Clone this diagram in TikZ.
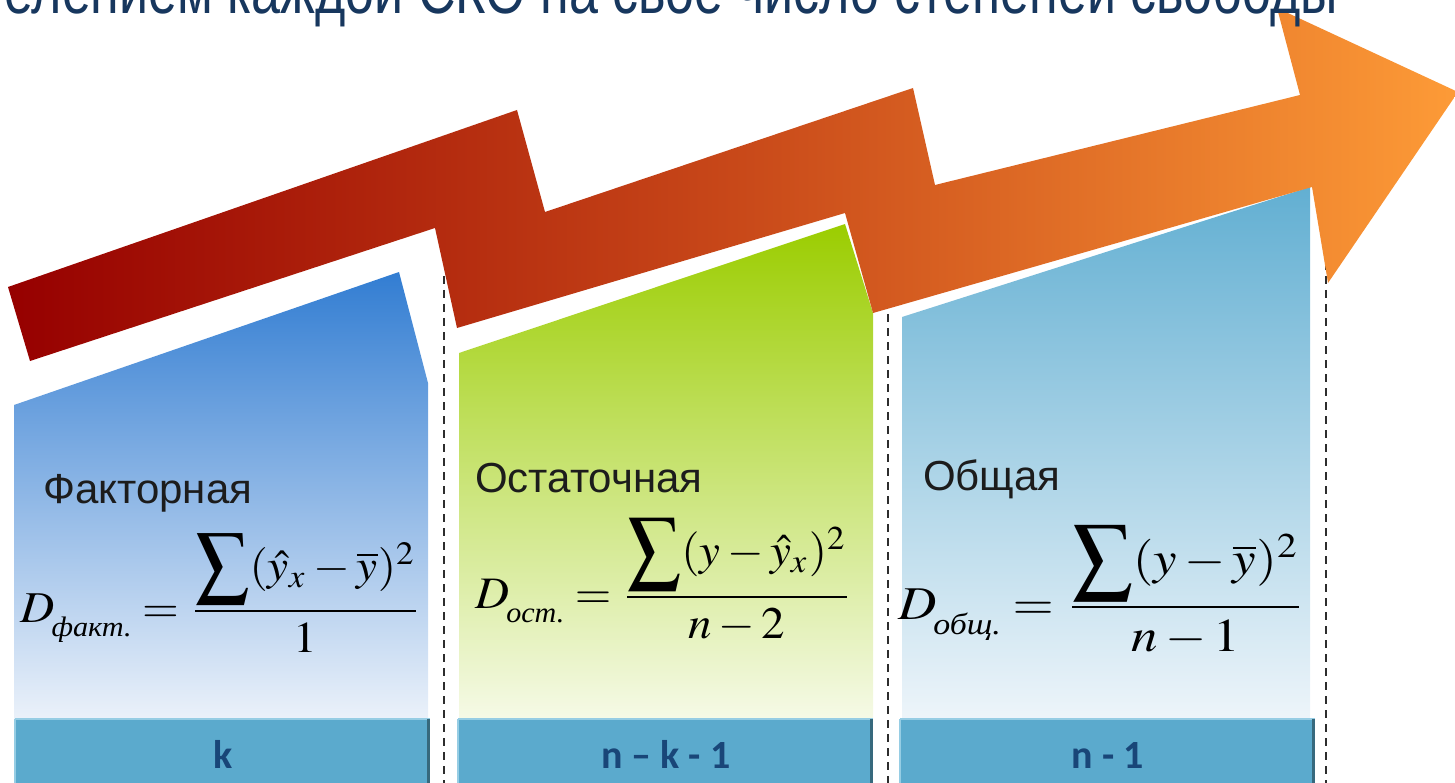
\documentclass[tikz,border=0pt]{standalone}
\usepackage{mathptmx}
\usepackage[no-math]{fontspec}
\setmainfont{Liberation Serif}
\newfontfamily\arialf{Liberation Sans}
\newfontfamily\calibf{Carlito}
\usepackage{graphicx}
\definecolor{arrL}{RGB}{150,0,0}
\definecolor{arrM}{RGB}{200,72,25}
\definecolor{arrR}{RGB}{253,155,55}
\definecolor{p1top}{RGB}{50,125,210}
\definecolor{p1bot}{RGB}{236,242,250}
\definecolor{p2top}{RGB}{155,205,0}
\definecolor{p2bot}{RGB}{246,250,232}
\definecolor{p3top}{RGB}{98,175,210}
\definecolor{p3bot}{RGB}{238,245,250}
\definecolor{barfill}{RGB}{91,170,205}
\definecolor{barhi}{RGB}{150,205,228}
\definecolor{bardk}{RGB}{55,105,125}
\definecolor{bartxt}{RGB}{25,70,120}
\definecolor{titletxt}{RGB}{23,55,94}
\definecolor{dashc}{RGB}{45,45,45}
\newcommand{\cyrsub}[1]{\kern-0.6pt\raisebox{-3.2pt}{\fontsize{6.4}{7}\selectfont\itshape #1}}
\newcommand{\bigsum}{\mathop{\vcenter{\hbox{\raisebox{1.4pt}{\scalebox{1.12}[1.3]{$\displaystyle\sum$}}}}}}
\tikzset{
  dashline/.style={draw=dashc, line width=2pt, dash pattern=on 8pt off 6pt},
  barbox/.style={fill=barfill, draw=none, minimum width=#1, minimum height=72pt, inner sep=0pt},
  barhiline/.style={draw=barhi, line width=2pt},
  bardkline/.style={draw=bardk, line width=3pt},
  bartext/.style={font=\calibf\bfseries\fontsize{40}{44}\selectfont, text=bartxt, inner sep=0pt},
  label/.style={font=\arialf\fontsize{42}{46}\selectfont, text={rgb,255:red,28;green,28;blue,28}, inner sep=0pt, anchor=base west},
  formula/.style={inner sep=0pt, anchor=base west},
  titletext/.style={font=\arialf\fontsize{52}{56}\selectfont, text=titletxt, inner sep=0pt, anchor=base east}
}
\begin{document}
\begin{tikzpicture}[x=1pt,y=-1pt]
\useasboundingbox (0,0) rectangle (1455,783);
\clip (0,0) rectangle (1455,783);
% dashed separators
\coordinate (d1t) at (444,276); \coordinate (d1b) at (444,790);
\coordinate (d2t) at (888,300); \coordinate (d2b) at (888,790);
\coordinate (d3t) at (1326,262); \coordinate (d3b) at (1326,790);
\draw[dashline] (d1t) -- (d1b);
\draw[dashline] (d2t) -- (d2b);
\draw[dashline] (d3t) -- (d3b);
% panels
\shade[top color=p1top, bottom color=p1bot] (14,405) -- (399,272) -- (428,383) -- (428,722) -- (14,722) -- cycle;
\shade[top color=p2top, bottom color=p2bot] (459,353) -- (845,224) -- (873,313) -- (873,722) -- (459,722) -- cycle;
\shade[top color=p3top, bottom color=p3bot] (902,317) -- (1310,187) -- (1310,722) -- (902,722) -- cycle;
% zigzag arrow
\shade[left color=arrL, right color=arrR, middle color=arrM]
  (8,287) -- (517,110) -- (545,212) -- (913,88) -- (935,185) -- (1300,95)
  -- (1277,8) -- (1458,92) -- (1328,283) -- (1312,187) -- (873,313)
  -- (845,213) -- (457,328) -- (435,228) -- (30,361) -- cycle;
% title (cut at top)
\node[titletext] (title) at (1338,14) {\scalebox{1}[1.3]{елением каждой СКО на свое число степеней свободы}};
% labels
\node[label] (l1) at (43,503) {Факторная};
\node[label] (l2) at (475,492) {Остаточная};
\node[label] (l3) at (923,490) {Общая};
% formulas
\node[formula] (f1) at (20,622) {\scalebox{4.73}[4.4]{$\displaystyle D\cyrsub{факт.}=\frac{\bigsum(\hat{y}_x-\overline{y})^2}{1}$}};
\node[formula] (f2) at (475,608) {\scalebox{4.7}[4.5]{$\displaystyle D\cyrsub{ост.}=\frac{\bigsum(y-\hat{y}_x)^2}{n-2}$}};
\node[formula] (f3) at (898,619) {\scalebox{5.3}[4.7]{$\displaystyle D\cyrsub{общ.}=\frac{\bigsum(y-\overline{y})^2}{n-1}$}};
% bars
\node[barbox=415pt, anchor=north west] (b1) at (15,719) {};
\node[barbox=415pt, anchor=north west] (b2) at (458,719) {};
\node[barbox=415pt, anchor=north west] (b3) at (900,719) {};
\foreach \b in {b1,b2,b3}{
  \draw[barhiline] (\b.north west) -- (\b.north east);
  \draw[barhiline] (\b.north west) -- (\b.south west);
  \draw[bardkline] ([xshift=-1.5pt]\b.north east) -- ([xshift=-1.5pt]\b.south east);
}
\node[bartext, anchor=base] (t1) at (b1.center |- 0,768) {k};
\node[bartext, anchor=base] (t2) at (b2.center |- 0,768) {n – k - 1};
\node[bartext, anchor=base] (t3) at (b3.center |- 0,768) {n - 1};
\end{tikzpicture}
\end{document}
